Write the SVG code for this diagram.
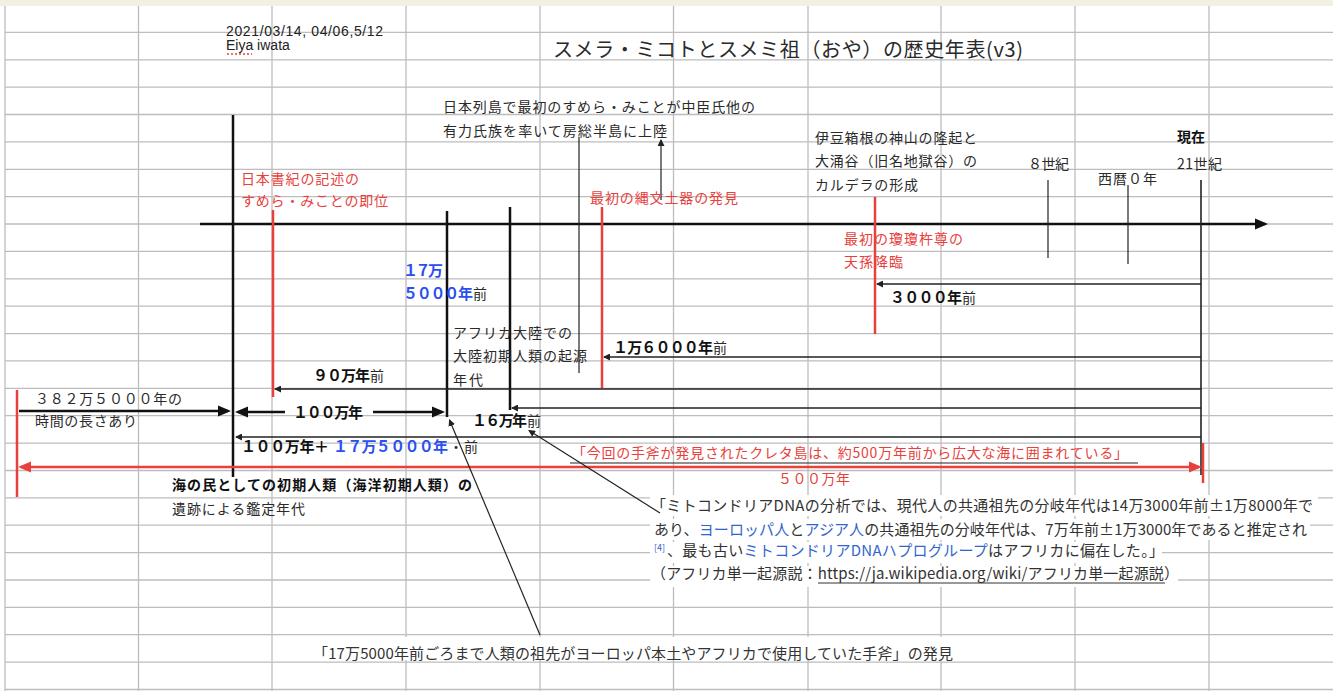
<svg xmlns="http://www.w3.org/2000/svg" width="1333" height="691" viewBox="0 0 1333 691">
<style>
.gl{stroke:#bdbdbd;stroke-width:1.3;fill:none}
.t{font-family:'Noto Sans CJK JP','Liberation Sans',sans-serif;font-size:14px;fill:#2a2a2a}
.lat{font-family:'Liberation Sans','Noto Sans CJK JP',sans-serif;font-size:14px;fill:#222}
.r{fill:#e8413c}
.b{font-weight:700;fill:#111;font-size:15px}
.bb{font-weight:700;fill:#2a4ff0;font-size:15px}
.lk{fill:#3366cc}
.p{font-size:15px;fill:#333}
.k{stroke:#111;stroke-width:2.5;fill:none}
.kr{stroke:#e8413c;stroke-width:2.5;fill:none}
.n{stroke:#222;stroke-width:1.6;fill:none}
.nt{stroke:#222;stroke-width:1.2;fill:none}
</style>
<defs>
<marker id="abk" markerUnits="userSpaceOnUse" markerWidth="14" markerHeight="12" refX="10" refY="6" orient="auto-start-reverse"><path d="M0,0.5 L13,6 L0,11.5 z" fill="#111"/></marker>
<marker id="ard" markerUnits="userSpaceOnUse" markerWidth="14" markerHeight="12" refX="10" refY="6" orient="auto-start-reverse"><path d="M0,0.5 L13,6 L0,11.5 z" fill="#e8413c"/></marker>
<marker id="asm" markerUnits="userSpaceOnUse" markerWidth="8" markerHeight="7" refX="6" refY="3.5" orient="auto-start-reverse"><path d="M0,0 L7,3.5 L0,7 z" fill="#222"/></marker>
</defs>
<rect x="0" y="0" width="1333" height="691" fill="#fff"/>
<rect x="0" y="0" width="1333" height="6" fill="#f4efe2"/>
<g id="grid" class="gl">
<path d="M5,6V691M138.5,6V691M272,6V691M406,6V691M540,6V691M673.5,6V691M808,6V691M941,6V691M1075,6V691M1209,6V691"/>
<path d="M5,32.4H1333M5,59.8H1333M5,87.1H1333M5,114.5H1333M5,141.9H1333M5,169.3H1333M5,196.7H1333M5,224H1333M5,251.4H1333M5,278.8H1333M5,306.2H1333M5,333.6H1333M5,360.9H1333M5,388.3H1333M5,415.7H1333M5,443.1H1333M5,470.5H1333M5,497.8H1333M5,525.2H1333M5,552.6H1333M5,580H1333M5,607.4H1333M5,634.7H1333M5,662.1H1333M5,689.5H1333"/>
</g>
<g id="textbg" fill="#fff">
<rect x="650" y="495" width="668" height="21"/>
<rect x="650" y="519" width="660" height="21"/>
<rect x="650" y="542" width="512" height="21"/>
<rect x="650" y="566" width="528" height="21"/>
<rect x="312" y="637" width="644" height="23"/>
</g>
<g id="connectors">
<line class="k" x1="200" y1="224" x2="1265" y2="224" marker-end="url(#abk)"/>
<line class="k" x1="233" y1="115" x2="233" y2="477"/>
<line class="kr" x1="273" y1="210" x2="273" y2="397"/>
<line class="k" x1="447" y1="211" x2="447" y2="417"/>
<line class="k" x1="510" y1="207" x2="510" y2="410"/>
<line class="nt" x1="579" y1="137" x2="579" y2="373"/>
<line class="nt" x1="661" y1="200" x2="661" y2="140" marker-end="url(#asm)"/>
<line class="kr" x1="602" y1="207" x2="602" y2="388"/>
<line class="kr" x1="875" y1="197" x2="875" y2="334"/>
<line class="nt" x1="1048" y1="180" x2="1048" y2="258"/>
<line class="nt" x1="1128" y1="185" x2="1128" y2="264"/>
<line class="n" x1="1201" y1="180" x2="1201" y2="475"/>
<line class="kr" x1="1203" y1="443" x2="1203" y2="483"/>
<line class="n" x1="1201" y1="284" x2="877" y2="284" marker-end="url(#asm)"/>
<line class="n" x1="1201" y1="357" x2="604" y2="357" marker-end="url(#asm)"/>
<line class="n" x1="1201" y1="389" x2="275" y2="389" marker-end="url(#asm)"/>
<line class="n" x1="1201" y1="408" x2="512" y2="408" marker-end="url(#asm)"/>
<line class="n" x1="1201" y1="437" x2="236" y2="437" marker-end="url(#asm)"/>
<line class="kr" x1="17" y1="390" x2="17" y2="497"/>
<line class="k" x1="19" y1="411" x2="228" y2="411" marker-end="url(#abk)"/>
<line class="k" x1="285" y1="412" x2="238" y2="412" marker-end="url(#abk)"/>
<line class="k" x1="373" y1="412" x2="442" y2="412" marker-end="url(#abk)"/>
<line class="kr" x1="21" y1="467" x2="1199" y2="467" marker-start="url(#ard)" marker-end="url(#ard)"/>
<line class="nt" x1="540" y1="635" x2="449.5" y2="420" marker-end="url(#asm)"/>
<line class="nt" x1="660" y1="513" x2="529" y2="430.6" marker-end="url(#asm)"/>
<line class="nt" x1="570" y1="463" x2="1138" y2="463"/>
</g>
<g id="header">
<text class="lat" x="226" y="36" textLength="157">2021/03/14, 04/06,5/12</text>
<text class="lat" x="226" y="50">Eiya iwata</text>
<line x1="227" y1="54" x2="252" y2="54" stroke="#e8413c" stroke-width="1.5" stroke-dasharray="2,2"/>
<text class="t" x="553" y="57" style="font-size:20px" textLength="470">スメラ・ミコトとスメミ祖（おや）の歴史年表(v3)</text>
</g>
<g id="n-landing"><text class="t" x="443" y="112" textLength="312">日本列島で最初のすめら・みことが中臣氏他の</text><text class="t" x="443" y="136" textLength="224">有力氏族を率いて房総半島に上陸</text></g>
<g id="n-jomon"><text class="t r" x="590" y="203" textLength="148">最初の縄文土器の発見</text></g>
<g id="n-hakone"><text class="t" x="815" y="143" textLength="162">伊豆箱根の神山の隆起と</text><text class="t" x="815" y="166" textLength="162">大涌谷（旧名地獄谷）の</text><text class="t" x="815" y="190" textLength="103">カルデラの形成</text></g>
<g id="n-8c"><text class="t" x="1028" y="169" textLength="41">８世紀</text></g>
<g id="n-ad0"><text class="t" x="1098" y="184" textLength="59">西暦０年</text></g>
<g id="n-now"><text class="t b" x="1177" y="142" style="font-size:14px">現在</text><text class="t" x="1177" y="169" textLength="45">21世紀</text></g>
<g id="n-shoki"><text class="t r" x="241" y="184" textLength="118">日本書紀の記述の</text><text class="t r" x="241" y="206" textLength="147">すめら・みことの即位</text></g>
<g id="n-175k"><text class="t bb" x="403" y="276" textLength="40">１７万</text><text class="t bb" x="403" y="299" textLength="70">５０００年</text><text class="t" x="473" y="299">前</text></g>
<g id="n-africa"><text class="t" x="453" y="338" textLength="119">アフリカ大陸での</text><text class="t" x="453" y="361" textLength="134">大陸初期人類の起源</text><text class="t" x="453" y="385" textLength="30">年代</text></g>
<g id="n-ninigi"><text class="t r" x="844" y="244" textLength="119">最初の瓊瓊杵尊の</text><text class="t r" x="844" y="267" textLength="59">天孫降臨</text></g>
<g id="n-3000"><text class="t b" x="890" y="303" textLength="72">３０００年</text><text class="t" x="962" y="303">前</text></g>
<g id="n-16000"><text class="t b" x="613" y="353" textLength="100">１万６０００年</text><text class="t" x="713" y="353">前</text></g>
<g id="n-90m"><text class="t b" x="313" y="381" textLength="57">９０万年</text><text class="t" x="370" y="381">前</text></g>
<g id="n-382"><text class="t" x="35" y="404" textLength="147">３８２万５０００年の</text><text class="t" x="35" y="426" textLength="102">時間の長さあり</text></g>
<g id="n-100m"><text class="t b" x="293" y="418" textLength="70">１００万年</text></g>
<g id="n-100m175k"><text class="t b" x="241" y="452" textLength="88">１００万年＋</text><text class="t bb" x="333" y="452" textLength="115">１７万５０００年</text><text class="t" x="449" y="452" textLength="29">・前</text></g>
<g id="n-160k"><text class="t b" x="472" y="426" textLength="55">１６万年</text><text class="t" x="527" y="426">前</text></g>
<g id="n-crete"><text class="t r" x="572" y="458" textLength="556">「今回の手斧が発見されたクレタ島は、約500万年前から広大な海に囲まれている」</text></g>
<g id="n-500m"><text class="t r" x="778" y="484" textLength="72">５００万年</text></g>
<g id="n-sea"><text class="t b" x="172" y="490" style="font-size:14px" textLength="300">海の民としての初期人類（海洋初期人類）の</text><text class="t" x="172" y="514" textLength="133">遺跡による鑑定年代</text></g>
<g id="n-mtdna">
<text class="t p" x="651" y="511" textLength="662">「ミトコンドリアDNAの分析では、現代人の共通祖先の分岐年代は14万3000年前±1万8000年で</text>
<text class="t p" x="654" y="535" textLength="653">あり、<tspan class="lk">ヨーロッパ人</tspan>と<tspan class="lk">アジア人</tspan>の共通祖先の分岐年代は、7万年前±1万3000年であると推定され</text>
<text class="t lk" x="654" y="551" style="font-size:9px">[4]</text>
<text class="t p" x="667" y="556" textLength="497">、最も古い<tspan class="lk">ミトコンドリアDNAハプログループ</tspan>はアフリカに偏在した。」</text>
<text class="t p" x="651" y="579" textLength="528">（アフリカ単一起源説：https://ja.wikipedia.org/wiki/アフリカ単一起源説）</text>
<line x1="818" y1="583" x2="1165" y2="583" stroke="#333" stroke-width="1"/>
</g>
<g id="n-handaxe"><text class="t p" x="313" y="659" textLength="640">「17万5000年前ごろまで人類の祖先がヨーロッパ本土やアフリカで使用していた手斧」の発見</text></g>
</svg>
